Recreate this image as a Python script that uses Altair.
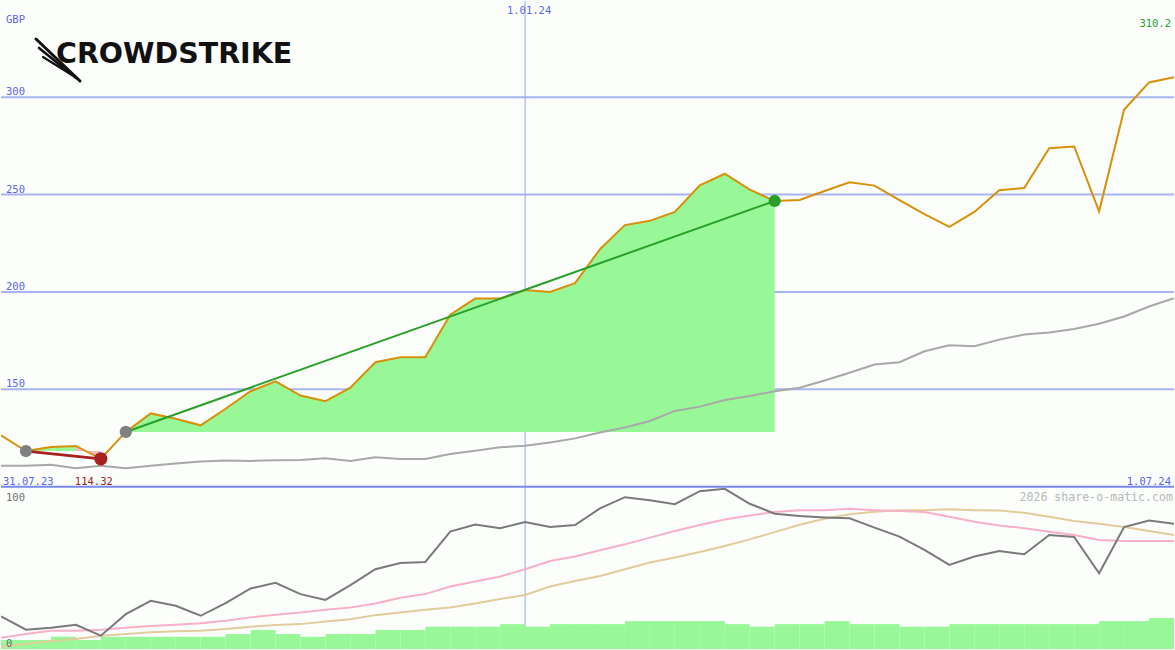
import altair as alt
import pandas as pd
from datetime import date, timedelta

# ---------------- data ----------------
start = date(2023, 8, 7)
dates = [(start + timedelta(weeks=i)).isoformat() for i in range(48)]

price = [126.4, 118.3, 120.4, 120.9, 114.32, 128.1, 137.6, 134.9, 131.5, 140.0,
         149.0, 154.1, 146.8, 143.9, 150.8, 163.9, 166.4, 166.4, 188.3, 196.6,
         196.6, 201.0, 200.0, 204.5, 221.9, 234.3, 236.5, 241.1, 254.7, 260.7,
         252.5, 246.7, 247.2, 251.8, 256.3, 254.6, 247.1, 239.9, 233.4, 241.1,
         252.2, 253.4, 273.8, 274.7, 241.4, 293.5, 307.6, 310.2]

avg = [110.7, 110.7, 111.2, 109.5, 110.7, 109.5, 110.7, 111.9, 112.9, 113.4,
       113.2, 113.6, 113.7, 114.6, 113.2, 115.1, 114.2, 114.2, 116.8, 118.4,
       120.2, 121.0, 122.7, 124.8, 127.8, 130.4, 133.7, 138.9, 141.1, 144.5,
       146.5, 149.0, 150.8, 154.5, 158.5, 162.7, 163.9, 169.5, 172.6, 172.1,
       175.5, 178.1, 179.2, 181.0, 183.7, 187.4, 192.5, 196.8]

osc = [20.3, 12.0, 13.2, 15.1, 8.3, 21.7, 30.0, 26.9, 20.7, 28.6,
       37.7, 41.2, 34.2, 30.6, 39.8, 49.7, 53.6, 54.2, 73.1, 77.6,
       75.3, 79.1, 76.0, 77.2, 87.6, 94.6, 92.7, 90.2, 98.3, 99.8,
       90.5, 84.3, 82.8, 82.0, 81.4, 75.6, 70.0, 61.7, 52.4, 57.6,
       61.1, 59.0, 71.0, 69.8, 47.2, 76.0, 80.1, 78.1]

pink = [7.0, 9.3, 11.4, 11.4, 12.0, 13.2, 14.3, 15.1, 16.1, 17.6,
        19.7, 21.3, 22.8, 24.4, 25.9, 28.4, 31.9, 34.2, 38.9, 42.0,
        45.2, 49.7, 54.8, 57.6, 61.5, 65.2, 69.4, 73.5, 77.2, 80.7,
        83.2, 85.4, 86.5, 86.5, 87.4, 86.5, 85.9, 85.3, 82.4, 79.3,
        77.0, 75.2, 73.1, 71.0, 67.9, 67.3, 67.3, 67.3]

tan = [1.4, 3.1, 4.8, 6.2, 8.3, 9.3, 10.4, 11.0, 11.4, 12.4,
       13.9, 14.9, 15.5, 17.2, 18.6, 21.1, 22.8, 24.4, 25.9, 28.4,
       31.1, 33.7, 38.9, 42.4, 45.5, 49.7, 53.9, 57.0, 60.4, 64.2,
       68.3, 72.8, 77.4, 81.2, 83.9, 85.5, 86.5, 86.5, 87.0, 86.5,
       86.3, 84.9, 82.4, 79.7, 78.1, 76.0, 73.5, 71.0]

volume = [5.6, 5.6, 7.6, 5.6, 7.6, 7.6, 7.6, 7.6, 7.6, 9.3,
          11.8, 9.3, 7.6, 9.3, 9.3, 11.8, 11.8, 13.9, 13.9, 13.9,
          15.5, 13.9, 15.5, 15.5, 15.5, 17.4, 17.4, 17.4, 17.4, 15.5,
          13.9, 15.5, 15.5, 17.4, 15.5, 15.5, 13.9, 13.9, 15.5, 15.5,
          15.5, 15.5, 15.5, 15.5, 17.4, 17.4, 19.3]

grid_values = [150, 200, 250, 300]
grid_labels = ["150", "200", "250", "300"]

fall_start, fall_end = 1, 4      # drawdown segment (indices)
rise_start, rise_end = 5, 31     # rise segment (indices)
year_mark = "2024-01-01"

# ---------------- styles ----------------
BG = "#fbfefb"
BLUE_TXT = "#5a64f0"
GRID = "#a8b4f4"
AXIS = "#7888ec"
MONO = "DejaVu Sans Mono"
W, H = 1175, 650

main = pd.DataFrame({"date": dates, "price": price, "avg": avg,
                     "osc": osc, "pink": pink, "tan": tan})
vol = pd.DataFrame({"date": dates[:-1], "date2": dates[1:], "vol": volume})

xscale = alt.Scale(type="utc",
                   domain=[alt.DateTime(year=2023, month=8, date=7, utc=True),
                           alt.DateTime(year=2024, month=7, date=1, utc=True)])
X = alt.X("date:T", scale=xscale, axis=None)
# price panel occupies the upper 489 px, indicator panel the lower 161 px
ytop = alt.Scale(domain=[16.63, 349.4], zero=False, nice=False)
ybot = alt.Scale(domain=[0, 403.7], zero=False, nice=False)


def YT(field):
    return alt.Y(field, scale=ytop, axis=None)


def YB(field):
    return alt.Y(field, scale=ybot, axis=None)


# ---------------- price panel ----------------
grid_df = pd.DataFrame({"v": grid_values, "label": grid_labels})
grid = alt.Chart(grid_df).mark_rule(color=GRID, strokeWidth=2).encode(y=YT("v:Q"))
grid_txt = alt.Chart(grid_df).mark_text(
    align="left", baseline="alphabetic", dy=-2, font=MONO, fontSize=10.5,
    color=BLUE_TXT).encode(x=alt.value(5), y=YT("v:Q"), text="label:N")

vline_df = pd.DataFrame({"date": [year_mark], "label": ["1.01.24"]})
vline = alt.Chart(vline_df).mark_rule(color="#98a4f8", strokeWidth=1).encode(x=X)
vline_txt = alt.Chart(vline_df).mark_text(
    align="center", baseline="alphabetic", dx=4, font=MONO, fontSize=10.5,
    color=BLUE_TXT).encode(x=X, y=alt.value(13), text="label:N")

rise = main.iloc[rise_start:rise_end + 1].copy()
rise["base"] = price[rise_start]
fill_rise = alt.Chart(rise).mark_area(color="#98f898", opacity=1).encode(
    x=X, y=YT("price:Q"), y2="base:Q")

fall_up = main.iloc[fall_start:fall_end].copy()
fall_up["base"] = price[fall_start]
fill_fall_up = alt.Chart(fall_up).mark_area(color="#98f898", opacity=1).encode(
    x=X, y=YT("price:Q"), y2="base:Q")
fall_dn = main.iloc[fall_end - 1:fall_end + 1].copy()
fall_dn["base"] = price[fall_start]
fill_fall_dn = alt.Chart(fall_dn).mark_area(color="#f8b8c8", opacity=1).encode(
    x=X, y=YT("price:Q"), y2="base:Q")

avg_line = alt.Chart(main).mark_line(color="#a8a8a8", strokeWidth=2, clip=True).encode(
    x=X, y=YT("avg:Q"))
price_line = alt.Chart(main).mark_line(color="#d8900a", strokeWidth=2, clip=True).encode(
    x=X, y=YT("price:Q"))

rise_pts = main.iloc[[rise_start, rise_end]]
fall_pts = main.iloc[[fall_start, fall_end]]
rise_line = alt.Chart(rise_pts).mark_line(color="#28a028", strokeWidth=2).encode(
    x=X, y=YT("price:Q"))
fall_line = alt.Chart(fall_pts).mark_line(color="#a82020", strokeWidth=2.8).encode(
    x=X, y=YT("price:Q"))

grey_dots = alt.Chart(main.iloc[[fall_start, rise_start]]).mark_circle(
    color="#808080", size=150, opacity=1).encode(x=X, y=YT("price:Q"))
red_dot = alt.Chart(main.iloc[[fall_end]]).mark_circle(
    color="#a82020", size=175, opacity=1).encode(x=X, y=YT("price:Q"))
green_dot = alt.Chart(main.iloc[[rise_end]]).mark_circle(
    color="#28a028", size=150, opacity=1).encode(x=X, y=YT("price:Q"))

sep_df = pd.DataFrame({"v": [100]})
sep = alt.Chart(sep_df).mark_rule(color=AXIS, strokeWidth=2).encode(y=YT("v:Q"))

labels_df = pd.DataFrame({
    "date": [dates[0], dates[fall_end], dates[-1], dates[-1]],
    "text": ["31.07.23", "114.32", "1.07.24", "310.2"],
})
lbl_start = alt.Chart(labels_df.iloc[[0]]).mark_text(
    align="left", baseline="alphabetic", font=MONO, fontSize=10.5, color=BLUE_TXT
).encode(x=alt.value(2), y=alt.value(484), text="text:N")
lbl_min = alt.Chart(labels_df.iloc[[1]]).mark_text(
    align="center", baseline="alphabetic", dx=-7, font=MONO, fontSize=10.5,
    color="#a82020").encode(x=X, y=alt.value(484), text="text:N")
lbl_end = alt.Chart(labels_df.iloc[[2]]).mark_text(
    align="right", baseline="alphabetic", dx=-3, font=MONO, fontSize=10.5,
    color=BLUE_TXT).encode(x=X, y=alt.value(484), text="text:N")
lbl_last = alt.Chart(labels_df.iloc[[3]]).mark_text(
    align="right", baseline="alphabetic", dx=-3, font=MONO, fontSize=10.5,
    color="#28a028").encode(x=X, y=alt.value(26), text="text:N")

cur_df = pd.DataFrame({"text": ["GBP"]})
lbl_cur = alt.Chart(cur_df).mark_text(
    align="left", baseline="alphabetic", font=MONO, fontSize=10.5, color=BLUE_TXT
).encode(x=alt.value(5), y=alt.value(22), text="text:N")

logo_df = pd.DataFrame({"text": ["CROWDSTRIKE"]})
logo = alt.Chart(logo_df).mark_text(
    align="left", baseline="alphabetic", font="DejaVu Sans", fontWeight="bold",
    fontSize=28.5, color="#111111").encode(
    x=alt.value(55), y=alt.value(62), text="text:N")
# three claw strokes of the logo mark (decoration): x, y, x2, y2, width
swoosh = [
    alt.Chart(logo_df).mark_rule(color="#111111", strokeWidth=sw, strokeCap="round").encode(
        x=alt.value(x1), y=alt.value(y1), x2=alt.value(x2), y2=alt.value(y2))
    for x1, y1, x2, y2, sw in [(35, 38, 79, 80, 3), (38, 47, 75, 77, 2.6),
                               (42, 56, 71, 74, 2.2)]
]

# ---------------- indicator panel ----------------
bars = alt.Chart(vol).mark_rect(color="#98f898").encode(
    x=X, x2="date2:T", y=YB("vol:Q"), y2=alt.datum(0))
tan_line = alt.Chart(main).mark_line(color="#e2cc9c", strokeWidth=2, clip=True).encode(
    x=X, y=YB("tan:Q"))
pink_line = alt.Chart(main).mark_line(color="#f8b0c8", strokeWidth=2, clip=True).encode(
    x=X, y=YB("pink:Q"))
osc_line = alt.Chart(main).mark_line(color="#7a7a7a", strokeWidth=2, clip=True).encode(
    x=X, y=YB("osc:Q"))

bot_txt_df = pd.DataFrame({"text": ["2026 share-o-matic.com", "100", "0"]})
wm = alt.Chart(bot_txt_df.iloc[[0]]).mark_text(
    align="right", baseline="alphabetic", font=MONO, fontSize=11.6,
    color="#b8b8b8").encode(x=alt.value(1172), y=alt.value(500), text="text:N")
t100 = alt.Chart(bot_txt_df.iloc[[1]]).mark_text(
    align="left", baseline="alphabetic", font=MONO, fontSize=10.5,
    color="#707070").encode(x=alt.value(5), y=alt.value(500), text="text:N")
t0 = alt.Chart(bot_txt_df.iloc[[2]]).mark_text(
    align="left", baseline="alphabetic", font=MONO, fontSize=10.5,
    color="#707070").encode(x=alt.value(5), y=alt.value(646), text="text:N")

chart = alt.layer(
    grid, vline, fill_rise, fill_fall_up, fill_fall_dn, avg_line,
    price_line, rise_line, fall_line, grey_dots, red_dot, green_dot, sep,
    bars, tan_line, pink_line, osc_line,
    grid_txt, vline_txt, lbl_start, lbl_min, lbl_end, lbl_last, lbl_cur,
    *swoosh, logo, wm, t100, t0
).resolve_scale(y="independent").properties(
    width=W, height=H, padding=0, background=BG,
    autosize=alt.AutoSizeParams(type="fit", contains="padding")
).configure_view(strokeWidth=0)

chart.save("out.html", embed_options={"renderer": "svg", "actions": False})
